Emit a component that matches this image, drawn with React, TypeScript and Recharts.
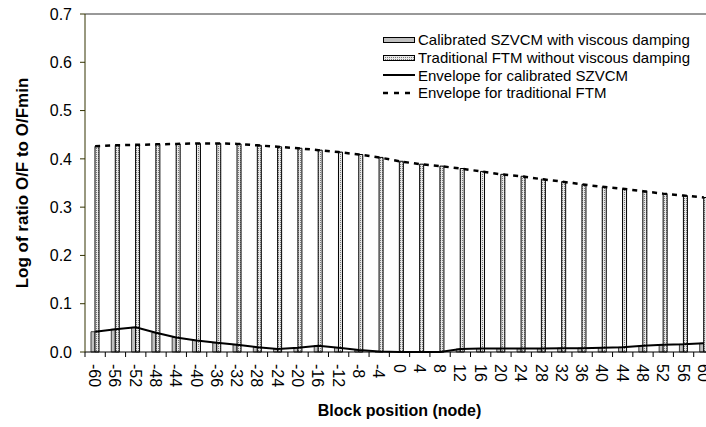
import { ComposedChart, Bar, Line, XAxis, YAxis, Legend, ReferenceLine, Label } from 'recharts'

// block positions along the beam (node numbers)
const blockPositions = [
  -60, -56, -52, -48, -44, -40, -36, -32, -28, -24, -20, -16, -12, -8, -4, 0,
  4, 8, 12, 16, 20, 24, 28, 32, 36, 40, 44, 48, 52, 56, 60,
]

// log(O/F / O/Fmin) for the calibrated SZVCM model with viscous damping
const calibratedSzvcm = [
  0.042, 0.047, 0.051, 0.040, 0.030, 0.024, 0.019, 0.015, 0.010, 0.006, 0.009,
  0.013, 0.009, 0.004, 0.001, 0.0, 0.0, 0.0, 0.006, 0.007, 0.007, 0.007, 0.007,
  0.008, 0.008, 0.009, 0.010, 0.013, 0.015, 0.016, 0.018,
]

// log(O/F / O/Fmin) for the traditional FTM without viscous damping
const traditionalFtm = [
  0.426, 0.428, 0.429, 0.430, 0.431, 0.432, 0.432, 0.431, 0.428, 0.425, 0.422,
  0.418, 0.414, 0.409, 0.403, 0.395, 0.389, 0.385, 0.380, 0.374, 0.368, 0.364,
  0.358, 0.353, 0.347, 0.342, 0.338, 0.333, 0.328, 0.324, 0.320,
]

const yTicks = [0, 0.1, 0.2, 0.3, 0.4, 0.5, 0.6, 0.7]

const data = blockPositions.map((node, i) => ({
  node,
  szvcm: calibratedSzvcm[i],
  ftm: traditionalFtm[i],
  szvcmEnvelope: calibratedSzvcm[i],
  ftmEnvelope: traditionalFtm[i],
}))

const CHART_W = 730
const CHART_H = 427
const MARGIN = { top: 14, right: 16, bottom: 0, left: 0 }
const Y_AXIS_W = 85
const BAND = (CHART_W - MARGIN.left - MARGIN.right - Y_AXIS_W) / blockPositions.length
const FONT = 'Arial, "Liberation Sans", sans-serif'

// tick marks sit on the category boundaries, labels run downwards
function NodeTick(props: any) {
  const { x, y, payload, index } = props
  const half = BAND / 2
  const tx = x - 6
  const ty = y + 12
  return (
    <g>
      <line x1={x - half} x2={x - half} y1={y} y2={y + 5} stroke="#000" />
      {index === blockPositions.length - 1 && (
        <line x1={x + half} x2={x + half} y1={y} y2={y + 5} stroke="#000" />
      )}
      <text
        x={tx}
        y={ty}
        transform={`rotate(90, ${tx}, ${ty})`}
        textAnchor="start"
        fontSize={16}
        fontFamily={FONT}
        fill="#000"
      >
        {payload.value}
      </text>
    </g>
  )
}

const legendRows = [
  { label: 'Calibrated SZVCM with viscous damping', kind: 'grayBar' },
  { label: 'Traditional FTM without viscous damping', kind: 'dotBar' },
  { label: 'Envelope for calibrated SZVCM', kind: 'solid' },
  { label: 'Envelope for traditional FTM', kind: 'dashed' },
]

function LegendIcon({ kind }: { kind: string }) {
  return (
    <svg width={36} height={10} style={{ marginRight: 1 }}>
      <defs>
        <pattern id="legendDots" width={2} height={2} patternUnits="userSpaceOnUse">
          <rect width={2} height={2} fill="#e8e8e8" />
          <rect width={1} height={1} fill="#7a7a7a" />
        </pattern>
      </defs>
      {kind === 'grayBar' && (
        <rect x={2.5} y={2.5} width={31} height={5} fill="#c0c0c0" stroke="#000" />
      )}
      {kind === 'dotBar' && (
        <rect x={2.5} y={2.5} width={31} height={5} fill="url(#legendDots)" stroke="#000" />
      )}
      {kind === 'solid' && <line x1={2} x2={34} y1={5} y2={5} stroke="#000" strokeWidth={2} />}
      {kind === 'dashed' && (
        <line x1={2} x2={34} y1={5} y2={5} stroke="#000" strokeWidth={2.5} strokeDasharray="5 6" />
      )}
    </svg>
  )
}

function ChartLegend() {
  return (
    <div style={{ fontFamily: FONT, fontSize: 15, color: '#000' }}>
      {legendRows.map((row) => (
        <div key={row.label} style={{ display: 'flex', alignItems: 'center', height: 17.7, whiteSpace: 'nowrap' }}>
          <LegendIcon kind={row.kind} />
          <span>{row.label}</span>
        </div>
      ))}
    </div>
  )
}

export default function App() {
  return (
    <div style={{ position: 'absolute', left: 0, top: 0, width: 706, height: 427, overflow: 'hidden', background: '#fff' }}>
      <ComposedChart width={CHART_W} height={CHART_H} data={data} margin={MARGIN} barGap={0}>
        <defs>
          <pattern id="ftmDots" width={2} height={2} patternUnits="userSpaceOnUse">
            <rect width={2} height={2} fill="#e8e8e8" />
            <rect width={1} height={1} fill="#7a7a7a" />
          </pattern>
        </defs>
        <XAxis
          dataKey="node"
          type="category"
          interval={0}
          height={75}
          tickLine={false}
          tickSize={0}
          tickMargin={0}
          axisLine={{ stroke: '#000' }}
          tick={<NodeTick />}
        >
          <Label
            value="Block position (node)"
            position="insideBottom"
            offset={11}
            style={{ fontFamily: FONT, fontSize: 16, fontWeight: 'bold', fill: '#000' }}
          />
        </XAxis>
        <YAxis
          type="number"
          domain={[0, 0.7]}
          ticks={yTicks}
          width={Y_AXIS_W}
          tickFormatter={(v: number) => v.toFixed(1)}
          tick={{ fontSize: 16, fontFamily: FONT, fill: '#000' }}
          tickSize={5}
          tickMargin={8}
          axisLine={{ stroke: '#333300' }}
          tickLine={{ stroke: '#333300' }}
        >
          <Label
            value="Log of ratio O/F to O/Fmin"
            angle={-90}
            position="insideLeft"
            offset={22}
            style={{ fontFamily: FONT, fontSize: 17, fontWeight: 'bold', fill: '#000', textAnchor: 'middle' }}
          />
        </YAxis>
        <ReferenceLine y={0.7} stroke="#333" />
        <Legend
          layout="vertical"
          align="center"
          verticalAlign="middle"
          content={<ChartLegend />}
          wrapperStyle={{ left: 381, top: 31, width: 340, height: 72 }}
        />
        <Bar dataKey="szvcm" barSize={4} fill="#c0c0c0" stroke="#404040" strokeWidth={1} isAnimationActive={false} />
        <Bar dataKey="ftm" barSize={4} fill="url(#ftmDots)" stroke="#000" strokeWidth={1} isAnimationActive={false} />
        <Line
          dataKey="szvcmEnvelope"
          type="linear"
          stroke="#000"
          strokeWidth={2}
          dot={false}
          isAnimationActive={false}
        />
        <Line
          dataKey="ftmEnvelope"
          type="linear"
          stroke="#000"
          strokeWidth={2.5}
          strokeDasharray="5 5"
          dot={false}
          isAnimationActive={false}
        />
      </ComposedChart>
    </div>
  )
}
